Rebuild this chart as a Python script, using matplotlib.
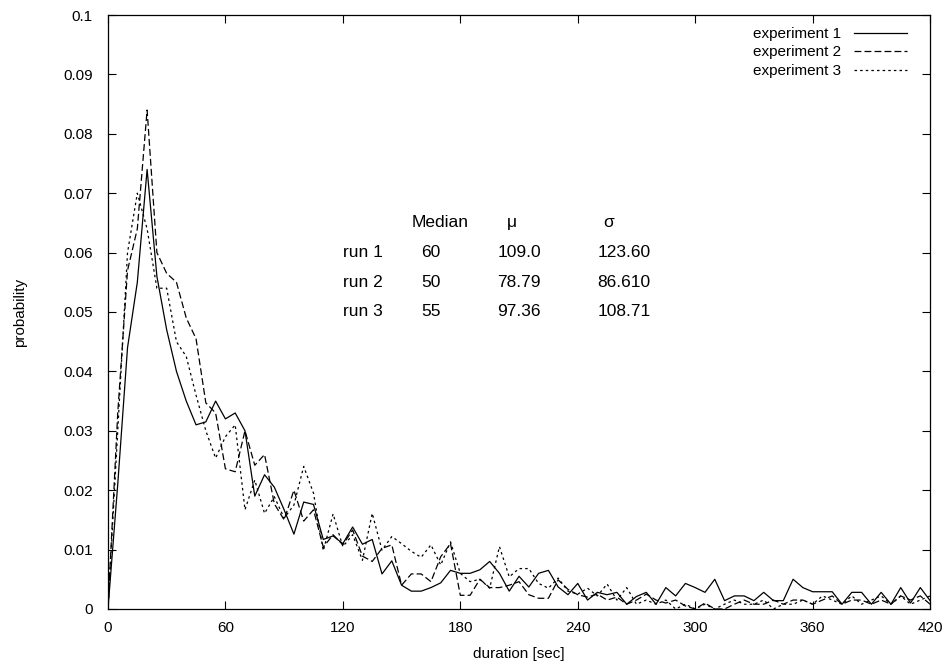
import matplotlib

matplotlib.use("Agg")
import matplotlib.pyplot as plt
from matplotlib.ticker import FixedLocator, FuncFormatter

# durations sampled every 5 s
duration = list(range(0, 425, 5))

exp1 = [0, 0.021, 0.044, 0.055, 0.074, 0.056, 0.047, 0.040, 0.035, 0.031,
        0.0315, 0.035, 0.032, 0.033, 0.030, 0.019, 0.0226, 0.0205, 0.0167, 0.0126,
        0.018, 0.0176, 0.0117, 0.0123, 0.011, 0.0138, 0.0109, 0.0117, 0.0059, 0.0081,
        0.004, 0.003, 0.003, 0.0036, 0.0044, 0.0065, 0.006, 0.006, 0.0066, 0.008,
        0.006, 0.003, 0.0055, 0.0037, 0.006, 0.0065, 0.0037, 0.0024, 0.0043, 0.0015,
        0.0028, 0.0024, 0.0028, 0.0008, 0.0021, 0.0028, 0.0008, 0.0036, 0.0022, 0.0043,
        0.0036, 0.0028, 0.005, 0.0014, 0.0022, 0.0022, 0.0014, 0.0028, 0.0014, 0.0014,
        0.005, 0.0036, 0.0029, 0.0029, 0.0029, 0.0008, 0.0028, 0.0028, 0.0008, 0.0028,
        0.0008, 0.0036, 0.001, 0.0036, 0.0014]

exp2 = [0, 0.033, 0.057, 0.064, 0.084, 0.060, 0.0565, 0.055, 0.049, 0.0455,
        0.0347, 0.033, 0.0236, 0.0231, 0.030, 0.0242, 0.026, 0.0177, 0.015, 0.020,
        0.0148, 0.0167, 0.0104, 0.0125, 0.0108, 0.0133, 0.0089, 0.008, 0.0102, 0.0108,
        0.004, 0.0059, 0.0059, 0.0046, 0.0088, 0.011, 0.0023, 0.0023, 0.005, 0.0036,
        0.0036, 0.004, 0.0046, 0.0024, 0.0018, 0.0018, 0.0049, 0.0033, 0.0024, 0.002,
        0.0025, 0.0015, 0.002, 0.0008, 0.0015, 0.0025, 0.0015, 0.001, 0.0015, 0.0005,
        0.0, 0.001, 0.0, 0.0, 0.0008, 0.0015, 0.0008, 0.0008, 0.0015, 0.0008,
        0.0015, 0.0015, 0.0008, 0.0015, 0.0022, 0.0008, 0.0015, 0.0015, 0.0008, 0.0015,
        0.0008, 0.0022, 0.0015, 0.0022, 0.0008]

exp3 = [0, 0.030, 0.060, 0.070, 0.064, 0.054, 0.054, 0.045, 0.0425, 0.036,
        0.030, 0.0254, 0.029, 0.031, 0.0167, 0.0217, 0.0161, 0.0189, 0.0153, 0.0175,
        0.024, 0.0195, 0.0098, 0.016, 0.0105, 0.0125, 0.0082, 0.0161, 0.0099, 0.0122,
        0.011, 0.0097, 0.0087, 0.0108, 0.0074, 0.0113, 0.006, 0.0046, 0.005, 0.0035,
        0.0105, 0.0054, 0.0068, 0.0068, 0.0043, 0.0035, 0.0052, 0.003, 0.0025, 0.0035,
        0.0022, 0.0042, 0.0015, 0.0036, 0.0008, 0.0015, 0.0008, 0.0015, 0.0, 0.0008,
        0.0, 0.0008, 0.0, 0.0008, 0.0015, 0.0008, 0.0008, 0.0015, 0.0, 0.0008,
        0.0008, 0.0015, 0.0008, 0.0022, 0.0015, 0.0008, 0.0022, 0.0008, 0.0015, 0.0022,
        0.0008, 0.0022, 0.0008, 0.0015, 0.0022]

labels = ["experiment 1", "experiment 2", "experiment 3"]

# summary table written inside the plot
header = ["Median", "\u03bc", "\u03c3"]
runs = ["run 1", "run 2", "run 3"]
medians = ["60", "50", "55"]
means = ["109.0", "78.79", "97.36"]
sigmas = ["123.60", "86.610", "108.71"]

xticks = [0, 60, 120, 180, 240, 300, 360, 420]
yticks = [0, 0.01, 0.02, 0.03, 0.04, 0.05, 0.06, 0.07, 0.08, 0.09, 0.1]

plt.rcParams.update({"font.family": ["Liberation Sans", "DejaVu Sans"],
                     "font.size": 11})

fig = plt.figure(figsize=(9.52, 6.67), dpi=100)
ax = fig.add_axes([0.1134, 0.087, 0.977 - 0.1134, 0.9775 - 0.087])

ax.plot(duration, exp1, color="black", lw=0.9, label=labels[0])
ax.plot(duration, exp2, color="black", lw=0.9, dashes=(5.5, 2.5), label=labels[1])
ax.plot(duration, exp3, color="black", lw=0.9, dashes=(2, 2.5), label=labels[2])

ax.set_xlim(0, 420)
ax.set_ylim(0, 0.1)
ax.xaxis.set_major_locator(FixedLocator(xticks))
ax.yaxis.set_major_locator(FixedLocator(yticks))
ax.yaxis.set_major_formatter(FuncFormatter(lambda v, p: f"{v:g}"))
ax.tick_params(direction="in", length=6, width=0.8, top=True, right=True,
               labelsize=11)
ax.tick_params(axis="x", pad=9)
ax.tick_params(axis="y", pad=11)
for s in ax.spines.values():
    s.set_linewidth(0.9)

ax.set_xlabel("duration [sec]", fontsize=11, labelpad=8)
ax.set_ylabel("probability", fontsize=11, labelpad=26)

leg = ax.legend(loc="upper right", bbox_to_anchor=(0.972, 0.98),
                frameon=False, markerfirst=False, borderaxespad=0, borderpad=0,
                handlelength=3.5, handletextpad=0.85, labelspacing=0.3,
                fontsize=11)
for t in leg.get_texts():
    t.set_ha("right")

# table of run statistics
tfs = 12.5
ax.text(155, 0.065, header[0], fontsize=tfs, va="center")
ax.text(204, 0.065, header[1], fontsize=tfs, va="center")
ax.text(253, 0.065, header[2], fontsize=tfs, va="center")
row_y = [0.06, 0.055, 0.05]
for i in range(3):
    ax.text(120, row_y[i], runs[i], fontsize=tfs, va="center")
    ax.text(160, row_y[i], medians[i], fontsize=tfs, va="center")
    ax.text(199, row_y[i], means[i], fontsize=tfs, va="center")
    ax.text(250, row_y[i], sigmas[i], fontsize=tfs, va="center")

fig.savefig("out.png", dpi=100)
